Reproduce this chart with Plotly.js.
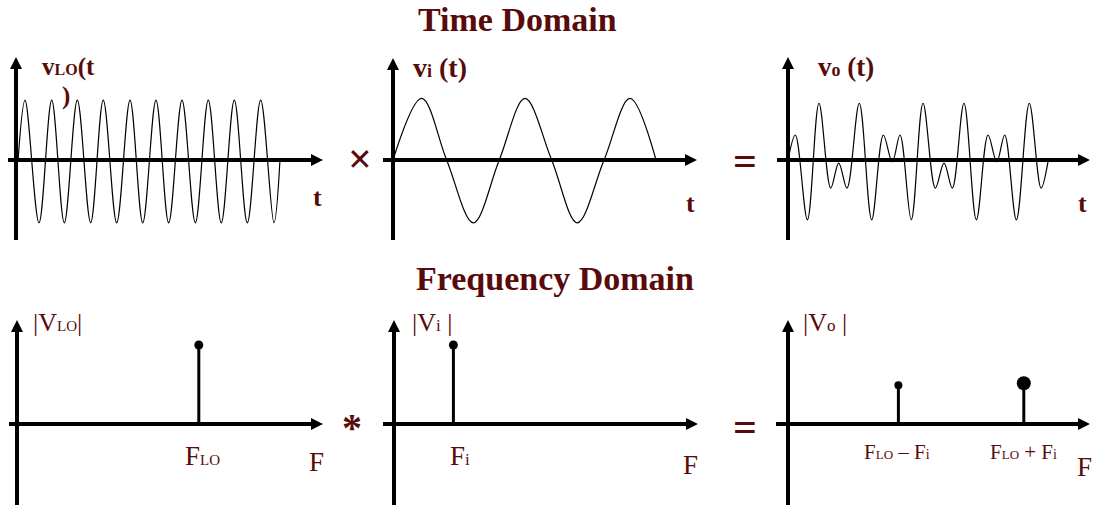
<!DOCTYPE html>
<html>
<head>
<meta charset="utf-8">
<script src="https://cdn.plot.ly/plotly-3.0.1.min.js"></script>
<style>html,body{margin:0;padding:0;background:#fff}</style>
</head>
<body>
<div id="chart" style="width:1095px;height:507px"></div>
<script>
// ---------- data ----------
// time in periods of v_i, amplitude normalised to the v_i peak
const vloT = [0.02, 0.086, 0.219, 0.340, 0.460, 0.584, 0.711, 0.831, 0.959, 1.086, 1.207,
              1.333, 1.454, 1.581, 1.708, 1.831, 1.955, 2.079, 2.203, 2.330, 2.457, 2.514];
const vloV = [0, 0.98, -1.03, 0.98, -1.03, 0.98, -1.03, 0.98, -1.03, 0.98, -1.03,
              0.98, -1.03, 0.98, -1.03, 0.98, -1.03, 0.98, -1.03, 0.98, -1.03, 0];

const viT = [0, 0.273, 0.511, 0.765, 1.012, 1.257, 1.511, 1.755, 2.010, 2.257, 2.505];
const viV = [0, 1.01, 0, -1.03, 0, 1.01, 0, -1.03, 0, 1.01, 0];

const voT = [0, 0.070, 0.185, 0.295, 0.407, 0.483, 0.562, 0.679, 0.797, 0.908, 0.993, 1.067, 1.174,
             1.286, 1.403, 1.486, 1.565, 1.676, 1.794, 1.905, 1.988, 2.064, 2.175, 2.298, 2.410, 2.476];
const voV = [0, 0.41, -0.98, 0.93, -0.46, -0.05, -0.46, 0.93, -0.98, 0.41, -0.03, 0.41, -0.98,
             0.93, -0.46, -0.05, -0.46, 0.93, -0.98, 0.41, -0.03, 0.41, -0.98, 0.93, -0.46, -0.03];

// spectra: frequency (arbitrary units), magnitude
const vloF = [3.03], vloA = [1.0];
const viF  = [0.99], viA  = [1.0];
const voF  = [1.84, 3.93], voA = [0.49, 0.515];

// labels
function sm(t, px) { return '<span style="font-size:' + px + 'px">' + t + '</span>'; }
const titleTime = 'Time Domain';
const titleFreq = 'Frequency Domain';
const lblVlo = 'v' + sm('LO', 16) + '(t';
const lblVloClose = ')';
const lblVi = 'v' + sm('i', 18) + ' (t)';
const lblVo = 'v' + sm('o', 18) + ' (t)';
const lblMagLo = '|V' + sm('LO', 15) + '|';
const lblMagI = '|V' + sm('i', 17) + ' |';
const lblMagO = '|V' + sm('o', 17) + ' |';
const lblFlo = 'F' + sm('LO', 15);
const lblFi = 'F' + sm('i', 17);
const lblDiff = 'F' + sm('LO', 13) + ' \u2013 F' + sm('i', 14);
const lblSum = 'F' + sm('LO', 13) + ' + F' + sm('i', 14);
const axisTime = 't', axisFreq = 'F';

// ---------- layout geometry ----------
const W = 1095, H = 507;
const MAROON = '#590b0b';
const FONT = 'Liberation Serif, Times New Roman, serif';
// pixel frames of the six panels (axis extents, origin, px per unit)
const frames = [
  {x0:8,   x1:323,  y0:57,  y1:240, ox:16,  oy:160, sx:105, sy:61},
  {x0:383, x1:697,  y0:58,  y1:240, ox:393, oy:160, sx:105, sy:61},
  {x0:777, x1:1090, y0:57,  y1:240, ox:788, oy:160, sx:105, sy:61},
  {x0:9,   x1:323,  y0:320, y1:505, ox:17,  oy:424, sx:60,  sy:79},
  {x0:383, x1:698,  y0:320, y1:505, ox:394, oy:424, sx:60,  sy:79},
  {x0:776, x1:1090, y0:320, y1:505, ox:788, oy:424, sx:60,  sy:79}
];

const layout = {
  width: W, height: H,
  margin: {l:0, r:0, t:0, b:0},
  paper_bgcolor: '#fff', plot_bgcolor: 'rgba(0,0,0,0)',
  showlegend: false, hovermode: false,
  annotations: []
};

const traces = [];
const axNames = [];
const HEAD = 12;      // arrow marker size
const HEADLEN = 8;    // px the axis line stops short of the tip
frames.forEach((f, i) => {
  const n = i === 0 ? '' : String(i + 1);
  const xa = 'x' + n, ya = 'y' + n;
  axNames.push([xa, ya]);
  const pad = 8;
  const dx0 = Math.max(0, f.x0 - pad), dx1 = Math.min(W, f.x1 + pad);
  const dy0 = Math.max(0, f.y0 - pad), dy1 = Math.min(H, f.y1 + pad);
  const hidden = {showgrid:false, zeroline:false, showticklabels:false, showline:false, ticks:'', fixedrange:true};
  layout['xaxis' + n] = Object.assign({}, hidden, {
    domain: [dx0 / W, dx1 / W], range: [(dx0 - f.ox) / f.sx, (dx1 - f.ox) / f.sx], anchor: ya
  });
  layout['yaxis' + n] = Object.assign({}, hidden, {
    domain: [1 - dy1 / H, 1 - dy0 / H], range: [(f.oy - dy1) / f.sy, (f.oy - dy0) / f.sy], anchor: xa
  });
  // axis lines
  traces.push({
    x: [(f.x0 - f.ox) / f.sx, (f.x1 - HEADLEN - f.ox) / f.sx, null, 0, 0],
    y: [0, 0, null, (f.oy - f.y1) / f.sy, (f.oy - f.y0 - HEADLEN) / f.sy],
    xaxis: xa, yaxis: ya, mode: 'lines', line: {color:'#000', width:4}, cliponaxis:false
  });
  // arrow heads
  traces.push({
    x: [(f.x1 - f.ox) / f.sx, 0], y: [0, (f.oy - f.y0) / f.sy],
    xaxis: xa, yaxis: ya, mode: 'markers', cliponaxis:false,
    marker: {symbol:['arrow-right', 'arrow-up'], size:HEAD, color:'#000', opacity:1, line:{width:0}}
  });
});

function label(text, xpx, ypx, size, bold, xanchor) {
  layout.annotations.push({
    text: bold ? '<b>' + text + '</b>' : text,
    xref:'paper', yref:'paper', x: xpx / W, y: 1 - ypx / H,
    xanchor: xanchor || 'center', yanchor:'middle', showarrow:false,
    font: {family: FONT, size: size, color: MAROON}
  });
}

// titles
label(titleTime, 517, 20, 34, true);
label(titleFreq, 555, 278, 34, true);
// time-domain labels
label(lblVlo, 40, 67, 25, true, 'left');
label(lblVloClose, 66, 96, 25, true);
label(lblVi, 411, 67, 28, true, 'left');
label(lblVo, 816, 67, 27, true, 'left');
label(axisTime, 317, 197, 26, true);
label(axisTime, 690, 203, 26, true);
label(axisTime, 1082, 203, 26, true);
// operators
label('\u00d7', 360, 159, 42, true);
label('=', 745, 161, 42, true);
label('*', 352, 427, 40, true);
label('=', 745, 427, 42, true);
// frequency-domain labels
label(lblMagLo, 31, 322, 26, false, 'left');
label(lblMagI, 410, 322, 26, false, 'left');
label(lblMagO, 801, 322, 26, false, 'left');
label(lblFlo, 202, 456, 27, false);
label(lblFi, 460, 456, 27, false);
label(lblDiff, 897, 452, 21, false);
label(lblSum, 1023, 452, 21, false);
label(axisFreq, 316, 462, 27, false);
label(axisFreq, 690, 465, 27, false);
label(axisFreq, 1084, 467, 27, false);

// ---------- data traces ----------
function wave(t, v, k) {
  traces.push({x:t, y:v, xaxis:axNames[k][0], yaxis:axNames[k][1], mode:'lines',
               line:{color:'#000', width:1.2, shape:'spline', smoothing:1}, cliponaxis:false});
}
function stems(f, a, k, sizes) {
  const xs = [], ys = [];
  f.forEach((fv, i) => { xs.push(fv, fv, null); ys.push(0, a[i], null); });
  traces.push({x:xs, y:ys, xaxis:axNames[k][0], yaxis:axNames[k][1], mode:'lines',
               line:{color:'#000', width:3}, cliponaxis:false});
  traces.push({x:f, y:a, xaxis:axNames[k][0], yaxis:axNames[k][1], mode:'markers',
               marker:{color:'#000', size:sizes, opacity:1, line:{width:0}}, cliponaxis:false});
}
wave(vloT, vloV, 0);
wave(viT, viV, 1);
wave(voT, voV, 2);
stems(vloF, vloA, 3, [9]);
stems(viF, viA, 4, [9]);
stems(voF, voA, 5, [8, 14]);

Plotly.newPlot('chart', traces, layout, {staticPlot:true, displayModeBar:false});
</script>
</body>
</html>
